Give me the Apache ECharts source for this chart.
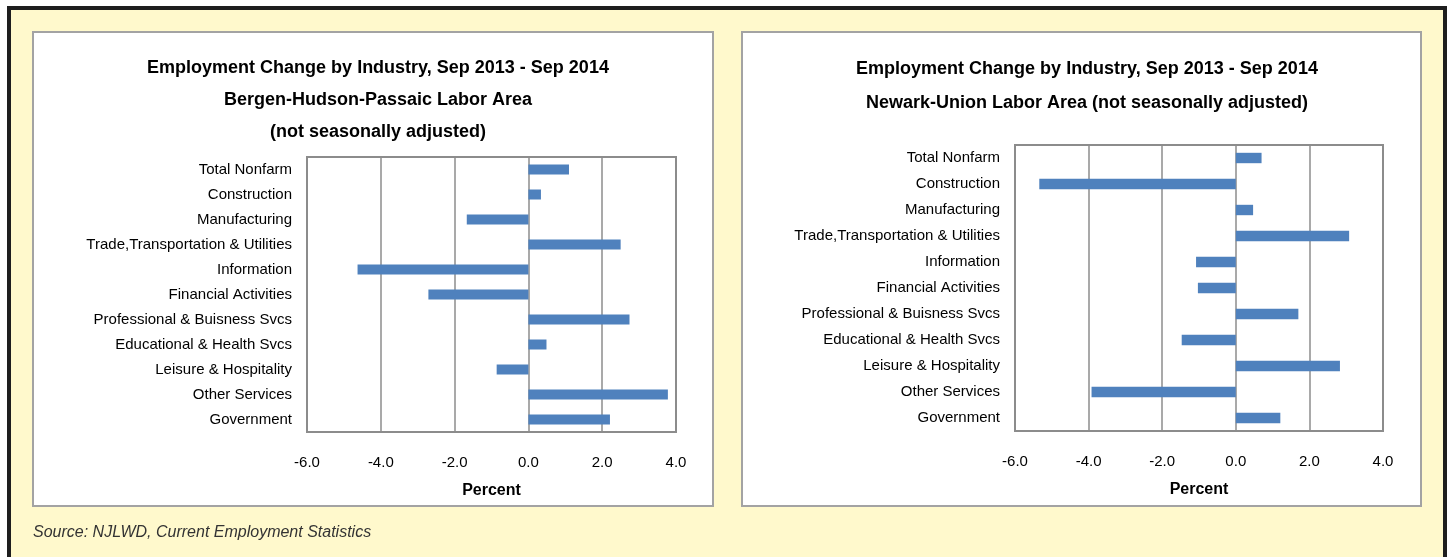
<!DOCTYPE html>
<html>
<head>
<meta charset="utf-8">
<script src="https://cdn.jsdelivr.net/npm/echarts@6/dist/echarts.min.js"></script>
<style>
  html, body { margin: 0; padding: 0; background: #fff; }
  #main { width: 1450px; height: 557px; }
</style>
</head>
<body>
<div id="main"></div>
<script>
// industries, top to bottom
const categories = [
  'Total Nonfarm', 'Construction', 'Manufacturing', 'Trade,Transportation & Utilities',
  'Information', 'Financial Activities', 'Professional & Buisness Svcs',
  'Educational & Health Svcs', 'Leisure & Hospitality', 'Other Services', 'Government'
];
// percent change Sep 2013 - Sep 2014
const bergenValues = [1.10, 0.34, -1.67, 2.50, -4.63, -2.71, 2.74, 0.49, -0.86, 3.78, 2.21];
const newarkValues = [0.70, -5.34, 0.47, 3.08, -1.08, -1.03, 1.70, -1.47, 2.83, -3.92, 1.21];

const bergenTitle = 'Employment Change by Industry, Sep 2013 - Sep 2014\nBergen-Hudson-Passaic Labor Area\n(not seasonally adjusted)';
const newarkTitle = 'Employment Change by Industry, Sep 2013 - Sep 2014\nNewark-Union Labor Area (not seasonally adjusted)';
const sourceText = 'Source: NJLWD, Current Employment Statistics';

const FONT = '"Liberation Sans", Arial, sans-serif';
const barColor = '#4f81bd';
const gridLineColor = '#8c8c8c';

var myChart = echarts.init(document.getElementById('main'));

function xAxisFor(gridIndex) {
  return {
    type: 'value',
    gridIndex: gridIndex,
    min: -6,
    max: 4,
    interval: 2,
    name: 'Percent',
    nameLocation: 'middle',
    nameGap: 51,
    nameTextStyle: { color: '#000', fontSize: 16, fontWeight: 'bold', fontFamily: FONT },
    axisLine: { show: false },
    axisTick: { show: false },
    axisLabel: {
      color: '#000', fontSize: 15, fontFamily: FONT, margin: 23,
      formatter: v => v.toFixed(1)
    },
    splitLine: { show: true, lineStyle: { color: gridLineColor, width: 1.5 } }
  };
}

function yAxisFor(gridIndex) {
  return {
    type: 'category',
    gridIndex: gridIndex,
    data: categories,
    inverse: true,
    axisLine: { show: false },
    axisTick: { show: false },
    axisLabel: { color: '#000', fontSize: 15, fontFamily: FONT, margin: 15 },
    splitLine: { show: false }
  };
}

var option = {
  animation: false,
  graphic: [
    {
      type: 'rect', z: -10,
      shape: { x: 9, y: 8, width: 1436, height: 600 },
      style: { fill: '#fff9cc', stroke: '#1e1e1e', lineWidth: 4 }
    },
    {
      type: 'rect', z: -9,
      shape: { x: 33, y: 32, width: 680, height: 474 },
      style: { fill: '#fff', stroke: '#a3a3a3', lineWidth: 2 }
    },
    {
      type: 'rect', z: -9,
      shape: { x: 742, y: 32, width: 679, height: 474 },
      style: { fill: '#fff', stroke: '#a3a3a3', lineWidth: 2 }
    },
    {
      type: 'text', z: -8,
      x: 33, y: 533,
      style: {
        text: sourceText, fill: '#333', fontSize: 16, fontStyle: 'italic',
        fontFamily: 'Arial, "Liberation Sans", sans-serif', verticalAlign: 'middle'
      }
    }
  ],
  title: [
    {
      text: bergenTitle,
      left: 373, top: 47, textAlign: 'center',
      textStyle: { color: '#000', fontSize: 18, fontWeight: 'bold', fontFamily: FONT, lineHeight: 32 }
    },
    {
      text: newarkTitle,
      left: 1082, top: 47, textAlign: 'center',
      textStyle: { color: '#000', fontSize: 18, fontWeight: 'bold', fontFamily: FONT, lineHeight: 34 }
    }
  ],
  grid: [
    { left: 307, right: 774, top: 157, bottom: 125, show: true, borderColor: gridLineColor, borderWidth: 2, backgroundColor: '#fff' },
    { left: 1015, right: 67, top: 145, bottom: 126, show: true, borderColor: gridLineColor, borderWidth: 2, backgroundColor: '#fff' }
  ],
  xAxis: [xAxisFor(0), xAxisFor(1)],
  yAxis: [yAxisFor(0), yAxisFor(1)],
  series: [
    {
      name: 'Bergen-Hudson-Passaic',
      type: 'bar',
      xAxisIndex: 0, yAxisIndex: 0,
      data: bergenValues,
      barWidth: '40%',
      itemStyle: { color: barColor }
    },
    {
      name: 'Newark-Union',
      type: 'bar',
      xAxisIndex: 1, yAxisIndex: 1,
      data: newarkValues,
      barWidth: '40%',
      itemStyle: { color: barColor }
    }
  ]
};

myChart.setOption(option);
</script>
</body>
</html>
